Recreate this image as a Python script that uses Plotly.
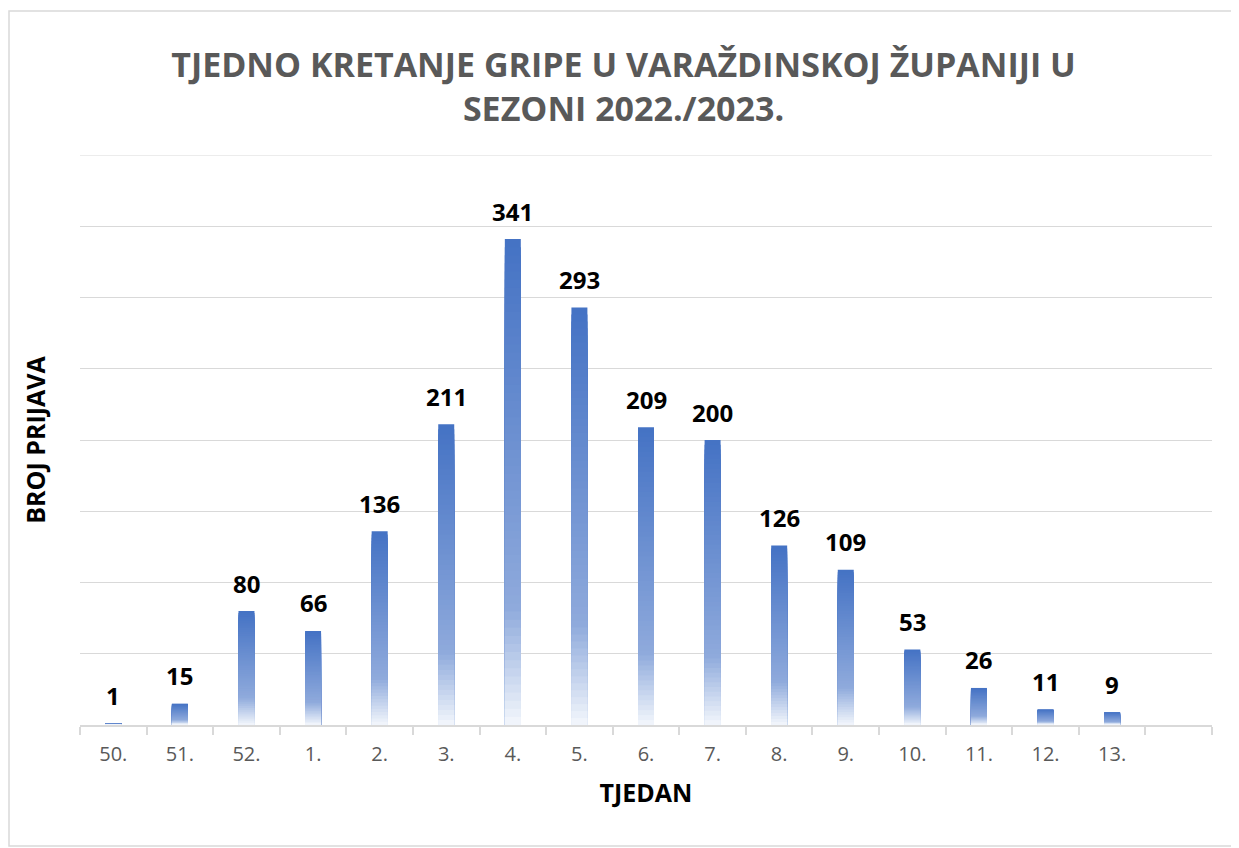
import plotly.graph_objects as go

weeks = ["50.", "51.", "52.", "1.", "2.", "3.", "4.", "5.", "6.", "7.", "8.", "9.", "10.", "11.", "12.", "13."]
cases = [1, 15, 80, 66, 136, 211, 341, 293, 209, 200, 126, 109, 53, 26, 11, 9]
title_text = "TJEDNO KRETANJE GRIPE U VARAŽDINSKOJ ŽUPANIJI U<br>SEZONI 2022./2023."
y_title = "BROJ PRIJAVA"
x_title = "TJEDAN"
y_max = 400

categories = weeks + [" "]

# page offset from default body margin
OFF = 8
W, H = 1239 - OFF, 848 - OFF
PX0, PX1, PY0, PY1 = 80, 1212, 155, 725  # plot area in page pixels
L = PX0 - OFF
T = PY0 - OFF
R = W + OFF - PX1
B = H + OFF - PY1
pw, ph = PX1 - PX0, PY1 - PY0


def lerp(c1, c2, f):
    return tuple(round(a + (b - a) * f) for a, b in zip(c1, c2))


top_c = (68, 114, 196)
mid_c = (143, 170, 220)
bot_c = (244, 247, 252)


def color_at(t):
    if t < 0.24:
        c = lerp(bot_c, mid_c, t / 0.24)
    else:
        c = lerp(mid_c, top_c, (t - 0.24) / 0.76)
    return "rgb(%d,%d,%d)" % c


fig = go.Figure()
N = 60
for k in range(N):
    frac = (N - k) / N
    t = (N - k - 0.5) / N
    fig.add_trace(go.Bar(
        x=weeks,
        y=[v * frac for v in cases],
        width=0.24,
        marker=dict(color=color_at(t), line=dict(width=0)),
        showlegend=False,
        hoverinfo="skip",
    ))

for i, v in enumerate(cases):
    fig.add_annotation(
        x=i, y=v, text=str(v), showarrow=False,
        xref="x", yref="y",
        yanchor="middle", yshift=28,
        font=dict(family="Open Sans", size=24, color="#000000", weight="bold"),
    )

fig.update_layout(
    width=W, height=H,
    barmode="overlay",
    margin=dict(l=L, r=R, t=T, b=B),
    paper_bgcolor="white",
    plot_bgcolor="white",
    title=dict(
        text=title_text,
        x=0.5, xanchor="center", xref="container",
        y=1 - (77 - OFF) / H, yanchor="middle", yref="container",
        font=dict(family="Open Sans", size=34, color="#595959", weight="bold"),
    ),
    font=dict(family="Open Sans"),
)

fig.update_xaxes(
    type="category",
    categoryorder="array", categoryarray=categories,
    range=[-0.5, len(categories) - 0.5],
    showline=True, linecolor="#d9d9d9", linewidth=2,
    ticks="outside", tickson="boundaries", ticklen=8, tickcolor="#d9d9d9", tickwidth=2,
    ticklabelstandoff=10,
    tickfont=dict(family="Open Sans", size=20, color="#595959"),
    title=dict(text=x_title, font=dict(family="Open Sans", size=25, color="#000000", weight="bold"), standoff=18),
    showgrid=False,
)
fig.update_yaxes(
    range=[0, y_max], dtick=50,
    showgrid=True, gridcolor="#d9d9d9", gridwidth=1,
    showticklabels=False, zeroline=False,
    title=dict(text=y_title, font=dict(family="Open Sans", size=25, color="#000000", weight="bold"), standoff=26),
)

# top gridline at the axis maximum
fig.add_shape(
    type="line", xref="paper", yref="y", x0=0, x1=1, y0=y_max, y1=y_max,
    line=dict(color="#d9d9d9", width=1), layer="below",
)

# outer chart border
fig.add_shape(
    type="rect", xref="paper", yref="paper",
    x0=(9 - PX0) / pw, x1=(1237 - PX0) / pw,
    y0=(PY1 - 846) / ph, y1=(PY1 - 11) / ph,
    line=dict(color="#d9d9d9", width=1.5), fillcolor="rgba(0,0,0,0)", layer="below",
)

fig.write_html("out.html")
